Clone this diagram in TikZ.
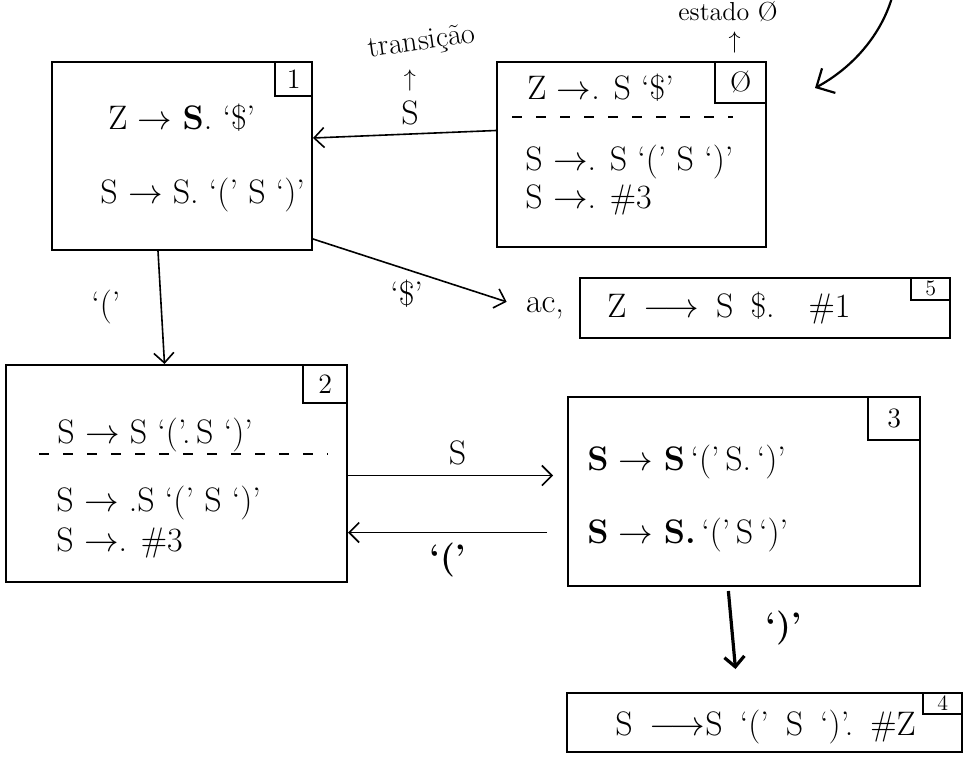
\documentclass[tikz,border=0pt]{standalone}
\usepackage{fontspec}
\usetikzlibrary{arrows.meta,positioning}

\begin{document}
\begin{tikzpicture}[x=0.5pt, y=-0.5pt,
  state/.style={draw, line width=1pt, inner sep=0pt},
  tag/.style={draw, line width=0.8pt, font=\fontsize{14}{14}\selectfont, inner sep=0pt, anchor=north east},
  item/.style={font=\fontsize{17}{20}\selectfont, inner sep=0pt, anchor=west},
  lbl/.style={font=\fontsize{17}{20}\selectfont, inner sep=1pt},
  hint/.style={font=\fontsize{12}{12}\selectfont, inner sep=0.5pt},
  sep/.style={dash pattern=on 5pt off 7pt, line width=0.6pt},
  trans/.style={-{Straight Barb[length=5pt, width=10pt]}, line width=0.8pt}]

  \useasboundingbox (0,0) rectangle (968,776);

  % estados
  \node[state, minimum width=134.5pt, minimum height=92.5pt] (s0) at (631.5,154.5) {};
  \node[state, minimum width=130pt, minimum height=94pt] (s1) at (182,156) {};
  \node[state, minimum width=170.5pt, minimum height=108.5pt] (s2) at (176.5,473.5) {};
  \node[state, minimum width=176pt, minimum height=94.5pt] (s3) at (744,491.5) {};
  \node[state, minimum width=197.5pt, minimum height=29.5pt] (s4) at (764.5,722.5) {};
  \node[state, minimum width=185pt, minimum height=30pt] (s5) at (765,308) {};

  % numeros dos estados
  \node[tag, minimum width=25.5pt, minimum height=20.5pt] (t0) at (s0.north east) {\O};
  \node[tag, minimum width=18.5pt, minimum height=17pt] (t1) at (s1.north east) {1};
  \node[tag, minimum width=22pt, minimum height=19pt] (t2) at (s2.north east) {2};
  \node[tag, minimum width=26pt, minimum height=21.5pt] (t3) at (s3.north east) {3};
  \node[tag, minimum width=19.5pt, minimum height=10.5pt, font=\fontsize{11}{11}\selectfont] (t4) at (s4.north east) {4};
  \node[tag, minimum width=19.5pt, minimum height=11pt, font=\fontsize{11}{11}\selectfont] (t5) at (s5.north east) {5};

  % itens
  \node[item] (i01) at (527,88) {Z $\to$. S ‘\$’};
  \node[item] (i02) at (525,162) {S $\to$. S ‘(’ S ‘)’};
  \node[item] (i03) at (525,200) {S $\to$. \#3};
  \draw[sep] ([xshift=8pt,yshift=-28pt]s0.north west) -- ([xshift=-17pt,yshift=-28pt]s0.north east);

  \node[item] (i11) at (108,118) {Z $\to$ \textbf{S}. ‘\$’};
  \node[item] (i12) at (100,195) {S $\to$ S. ‘(’ S ‘)’};

  \node[item] (i21) at (57,435) {S $\to$ S ‘(’.\,S ‘)’};
  \node[item] (i22) at (56,503) {S $\to$ .S ‘(’ S ‘)’};
  \node[item] (i23) at (56,543) {S $\to$. \#3};
  \draw[sep] ([xshift=17pt,yshift=-45pt]s2.north west) -- ([xshift=-10pt,yshift=-45pt]s2.north east);

  \node[item] (i31) at (587,462) {\textbf{S} $\to$ \textbf{S}\,‘(’\,S.\,‘)’};
  \node[item] (i32) at (587,535) {\textbf{S} $\to$ \textbf{S.}\,‘(’\,S\,‘)’};

  \node[item] (i41) at (615,727) {S\enspace$\longrightarrow$S\enspace‘(’\enspace S\enspace‘)’.\enspace\#Z};
  \node[item] (i51) at (607,308) {Z\enspace$\longrightarrow$\enspace S\enspace\$.\quad\#1};
  \node[lbl, inner sep=0pt] (acc) at (545,308) {ac,};

  % transicoes
  \draw[trans] ([yshift=12pt]s0.west) -- ([yshift=9pt]s1.east) node[lbl, pos=0.47, above=3pt] (lS) {S};
  \node[hint, above=3pt of lS] (up1) {$\uparrow$};
  \node[lbl, above=5pt of up1, xshift=7pt, font=\fontsize{15}{15}\selectfont, rotate=8] (ltr) {transição};

  \draw[trans] ([xshift=-12pt]s1.south) -- ([xshift=-6pt]s2.north) node[lbl, midway, left=19pt] {‘(’};
  \draw[trans, shorten >=10pt] ([yshift=6pt]s1.south east) -- (acc.west) node[lbl, pos=0.44, below=4pt] {‘\$’};

  \coordinate (a23) at ([yshift=-1pt]s2.east);
  \draw[trans, shorten >=7pt] (a23) -- (a23 -| s3.west) node[lbl, midway, above=4pt] {S};
  \coordinate (a32) at ([xshift=-10pt,yshift=-20.5pt]s3.west);
  \draw[trans] (a32) -- (a32 -| s2.east) node[lbl, midway, below=4pt] {\textbf{‘(’}};

  \draw[trans, line width=1.6pt, shorten <=2pt] ([xshift=-8pt]s3.south) -- ([xshift=-14.5pt,yshift=11.5pt]s4.north) node[lbl, midway, right=15pt] {\textbf{‘)’}};

  % nota do estado inicial
  \node[hint, above=3pt of t0, xshift=-3pt] (up0) {$\uparrow$};
  \node[lbl, anchor=north, font=\fontsize{13}{14}\selectfont, inner sep=0pt] (est) at (728,1) {estado \O};
  \coordinate (c0) at (893,-6);
  \coordinate (c1) at (815,88);
  \draw[-{Straight Barb[length=7pt, width=14pt]}, line width=1.1pt] (c0) .. controls (882,35) and (852,68) .. (c1);
\end{tikzpicture}
\end{document}
